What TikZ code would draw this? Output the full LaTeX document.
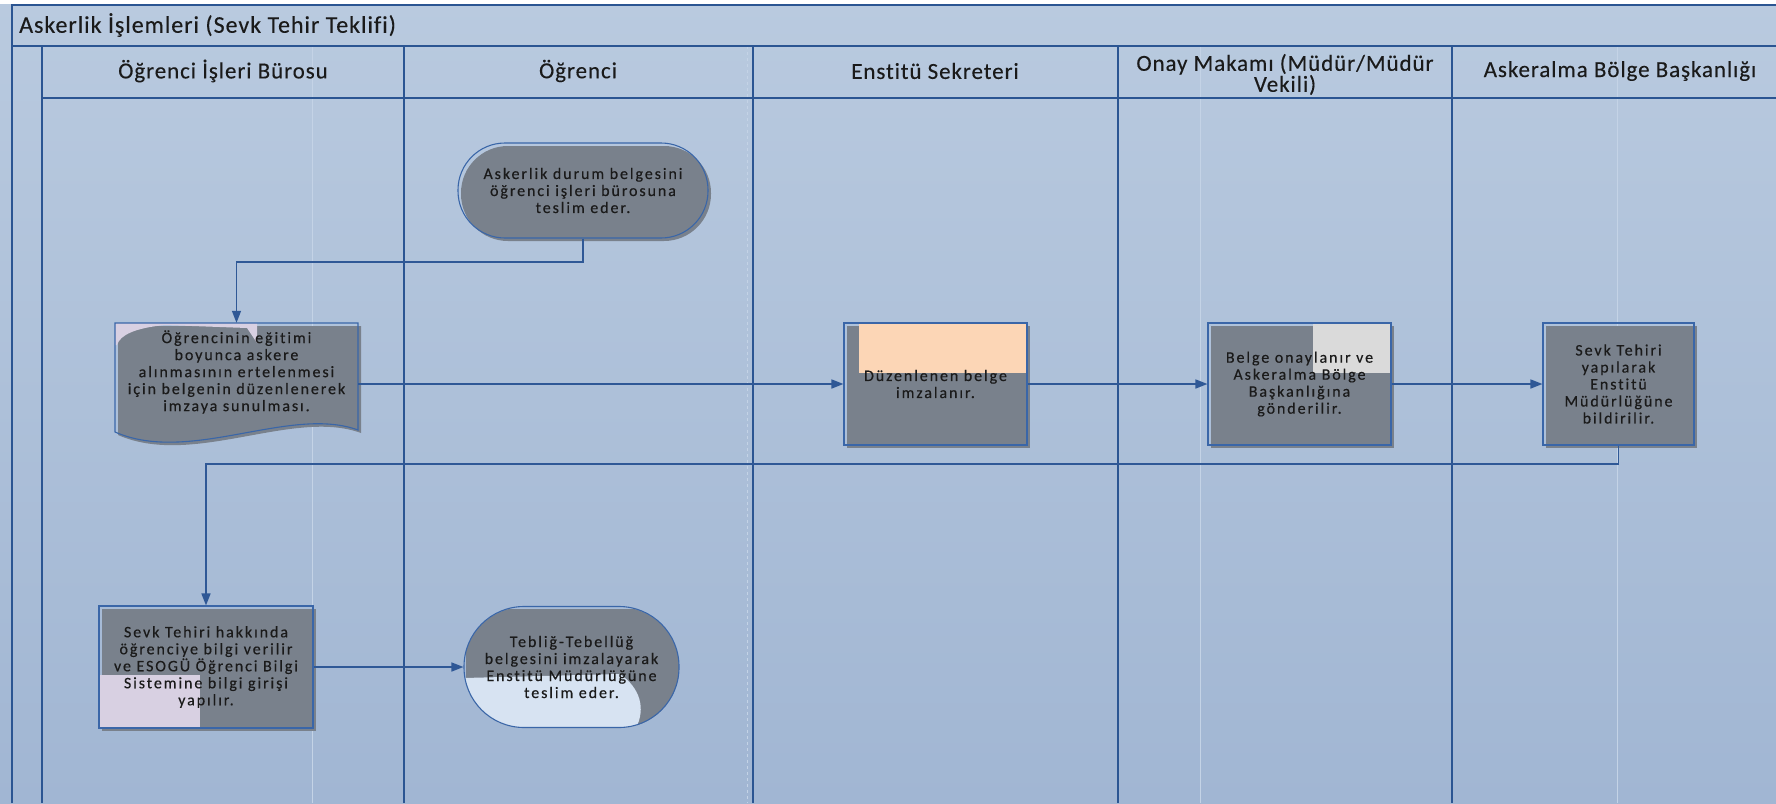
\documentclass[tikz,border=0pt]{standalone}
\usepackage{fontspec}
\setmainfont{Carlito}[Ligatures=NoCommon]
\newfontfamily\boxf[LetterSpace=12,FakeBold=0.4,Ligatures=NoCommon]{Carlito}
\newfontfamily\headf[LetterSpace=4,FakeBold=0.2,Ligatures=NoCommon]{Carlito}
\usetikzlibrary{arrows.meta}
\definecolor{bgtop}{HTML}{B9CADF}
\definecolor{bgbot}{HTML}{A1B6D3}
\definecolor{laneblue}{HTML}{2B5592}
\definecolor{faint}{HTML}{C4D3E6}
\definecolor{nodegrey}{HTML}{79818C}
\definecolor{nodeline}{HTML}{3A66A8}
\definecolor{connblue}{HTML}{2F5896}
\definecolor{peach}{HTML}{FCD6B6}
\definecolor{lavender}{HTML}{D8D0E2}
\definecolor{lightgrey}{HTML}{DADADA}
\definecolor{paleblue}{HTML}{D7E3F2}
\definecolor{ink}{HTML}{1A1A1A}
\begin{document}
\begin{tikzpicture}[x=1pt,y=-1pt,
  laneline/.style={draw=laneblue,line width=2pt},
  faintline/.style={draw=faint,line width=1pt},
  headtext/.style={font=\headf\fontsize{23}{21}\selectfont,text=ink,align=center,inner sep=0pt},
  titletext/.style={font=\headf\fontsize{24}{21}\selectfont,text=ink,inner sep=0pt},
  boxtext/.style={font=\boxf\fontsize{16}{17}\selectfont,text=ink,align=center,inner sep=0pt},
  procbox/.style={boxtext,draw=nodeline,line width=1.1pt,rectangle},
  termbox/.style={procbox,rounded corners=#1},
  flow/.style={draw=connblue,line width=1.5pt,-{Triangle[length=12pt,width=9pt]}},
]
\useasboundingbox (0,0) rectangle (1776,803);
% background
\fill[top color=bgtop,bottom color=bgbot] (0,0) rectangle (1776,803);
\fill[white] (0,0) rectangle (1776,4);
% faint page lines
\foreach \fx in {312,1200,1617} \draw[faintline] (\fx,46) -- (\fx,803);
\draw[faintline,dashed] (747,46) -- (747,803);
% pool and lanes
\draw[laneline] (12,803) -- (12,5) -- (1776,5);
\draw[laneline] (12,46) -- (1776,46);
\draw[laneline] (42,46) -- (42,803);
\draw[laneline] (42,98) -- (1776,98);
\foreach \lx in {404,753,1118,1452} \draw[laneline] (\lx,46) -- (\lx,803);
% title and headers
\node[titletext,anchor=west] (title) at (19,25) {Askerlik İşlemleri (Sevk Tehir Teklifi)};
\node[headtext] (h1) at (223,71) {Öğrenci İşleri Bürosu};
\node[headtext] (h2) at (578,71) {Öğrenci};
\node[headtext] (h3) at (935,71) {Enstitü Sekreteri};
\node[headtext] (h4) at (1285,74.5) {Onay Makamı (Müdür/Müdür\\Vekili)};
\node[headtext] (h5) at (1620,71) {Askeralma Bölge Başkanlığı};
% fills (offset shadows) and colour patches
\fill[nodegrey,rounded corners=47pt] (461,146) rectangle (711,241);
\fill[nodegrey,shift={(3,3)}] (115,323) -- (358,323) -- (358,430) .. controls (290,405) and (190,465) .. (115,432) -- cycle;
\fill[lavender] (115,323) -- (257,323) -- (257,343) -- (247,328) -- (165,325) .. controls (135,328) and (120,335) .. (117,345) -- (115,345) -- cycle;
\fill[nodegrey] (847,326) rectangle (1030,448);
\fill[peach] (859,323) rectangle (1027,373);
\fill[nodegrey] (1211,326) rectangle (1394,448);
\fill[lightgrey] (1313,323) rectangle (1391,373);
\fill[nodegrey] (1546,326) rectangle (1697,448);
\fill[nodegrey] (102,609) rectangle (316,731);
\fill[lavender] (99,675) rectangle (200,728);
\begin{scope}
\clip[rounded corners=60pt] (464,607) rectangle (679,728);
\fill[nodegrey] (466,609) rectangle (681,730);
\fill[paleblue] (464,678) -- (620,674) .. controls (640,688) and (646,708) .. (636,728) -- (464,728) -- cycle;
\end{scope}
% nodes
\node[termbox=47pt,minimum width=250pt,minimum height=95pt] (n1) at (583,190.5) {Askerlik durum belgesini\\öğrenci işleri bürosuna\\teslim eder.};
\node[inner sep=0pt,minimum width=243pt,minimum height=122pt] (doc) at (236.5,384) {};
\draw[nodeline,line width=1.1pt] (115,323) -- (358,323) -- (358,430) .. controls (290,405) and (190,465) .. (115,432) -- cycle;
\node[boxtext] (doctext) at (236.5,372) {Öğrencinin eğitimi\\boyunca askere\\alınmasının ertelenmesi\\için belgenin düzenlenerek\\imzaya sunulması.};
\node[procbox,minimum width=183pt,minimum height=122pt] (duz) at (935.5,384) {Düzenlenen belge\\imzalanır.};
\node[procbox,minimum width=183pt,minimum height=122pt] (onay) at (1299.5,384) {Belge onaylanır ve\\Askeralma Bölge\\Başkanlığına\\gönderilir.};
\node[procbox,minimum width=151pt,minimum height=122pt] (sevk) at (1618.5,384) {Sevk Tehiri\\yapılarak\\Enstitü\\Müdürlüğüne\\bildirilir.};
\node[procbox,minimum width=214pt,minimum height=122pt] (bilgi) at (206,667) {Sevk Tehiri hakkında\\öğrenciye bilgi verilir\\ve ESOGÜ Öğrenci Bilgi\\Sistemine bilgi girişi\\yapılır.};
\node[termbox=60pt,minimum width=215pt,minimum height=121pt] (teblig) at (571.5,667) {Tebliğ-Tebellüğ\\belgesini imzalayarak\\Enstitü Müdürlüğüne\\teslim eder.};
% connectors
\coordinate (b1) at (583,262);
\coordinate (b2) at (1618.5,464);
\draw[flow] (n1.south) -- (b1) -| (doc.north);
\draw[flow] (doc.east) -- (duz.west);
\draw[flow] (duz.east) -- (onay.west);
\draw[flow] (onay.east) -- (sevk.west);
\draw[flow] (sevk.south) -- (b2) -| (bilgi.north);
\draw[flow] (bilgi.east) -- (teblig.west);
\end{tikzpicture}
\end{document}
